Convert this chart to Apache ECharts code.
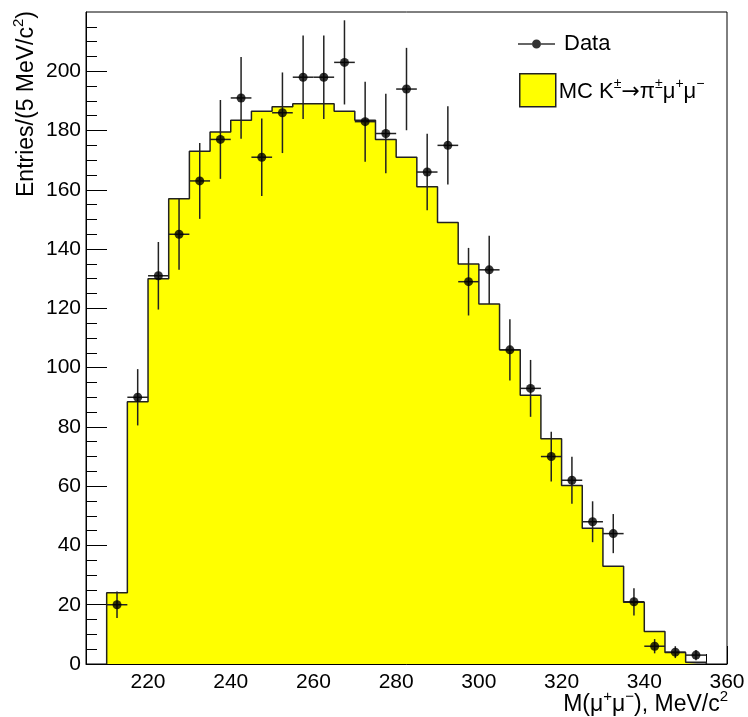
<!DOCTYPE html>
<html>
<head>
<meta charset="utf-8">
<style>
  html, body { margin: 0; padding: 0; background: #fff; }
  #chart { width: 748px; height: 717px; }
</style>
<script src="https://cdn.jsdelivr.net/npm/echarts@6/dist/echarts.min.js"></script>
</head>
<body>
<div id="chart"></div>
<script>
// Dimuon invariant mass: data vs. MC K± → π±μ+μ− (5 MeV/c² bins)
const binCenters = [212.5, 217.5, 222.5, 227.5, 232.5, 237.5, 242.5, 247.5, 252.5, 257.5,
                    262.5, 267.5, 272.5, 277.5, 282.5, 287.5, 292.5, 297.5, 302.5, 307.5,
                    312.5, 317.5, 322.5, 327.5, 332.5, 337.5, 342.5, 347.5, 352.5];
const mcCounts = [24, 88.5, 130, 157, 173, 179.5, 183.5, 186.5, 188, 189,
                  189, 186.5, 183.5, 177, 171, 161, 149, 135, 121.5, 106,
                  90.7, 76, 60.2, 45.8, 33, 20.8, 11, 3.9, 0.6];
const dataCounts = [20, 90, 131, 145, 163, 177, 191, 171, 186, 198,
                    198, 203, 183, 179, 194, 166, 175, 129, 133, 106,
                    93, 70, 62, 48, 44, 21, 6, 4, 3];
const dataErrors = [4.5, 9.5, 11.4, 12.0, 12.8, 13.3, 13.8, 13.1, 13.6, 14.1,
                    14.1, 14.2, 13.5, 13.4, 13.9, 12.9, 13.2, 11.4, 11.5, 10.3,
                    9.6, 8.4, 7.9, 6.9, 6.6, 4.6, 2.4, 2.0, 1.7];
const xTickLabels = [220, 240, 260, 280, 300, 320, 340, 360];
const yTickLabels = [0, 20, 40, 60, 80, 100, 120, 140, 160, 180, 200];

const X_MIN = 205, X_MAX = 360, Y_MIN = 0, Y_MAX = 220;
const FONT = "'Liberation Sans', Arial, Helvetica, sans-serif";
const INK = '#000';

const halfBin = (binCenters[1] - binCenters[0]) / 2;

// Closed step outline of the MC histogram
const mcSteps = [[binCenters[0] - halfBin, 0]];
binCenters.forEach((c, i) => mcSteps.push([c - halfBin, mcCounts[i]]));
const lastIdx = binCenters.length - 1;
mcSteps.push([binCenters[lastIdx] + halfBin, mcCounts[lastIdx]]);
mcSteps.push([binCenters[lastIdx] + halfBin, 0]);

const dataPoints = binCenters.map((c, i) => [c, dataCounts[i]]);
const errorBars = binCenters.map((c, i) => [c, dataCounts[i], dataErrors[i], halfBin]);

// Minor tick positions every 5 units, skipping the labelled ones
function minorTicks(lo, hi, step, majors) {
  const out = [];
  for (let v = lo; v <= hi + 1e-9; v += step) {
    if (!majors.includes(v)) out.push(v);
  }
  return out;
}
const xMinor = minorTicks(210, 355, 5, xTickLabels);
const yMinor = minorTicks(5, 215, 5, yTickLabels);

const labelStyle = { color: INK, fontSize: 21, fontFamily: FONT };

function richSet(size, supSize) {
  return {
    n: { fontSize: size, fontFamily: FONT, color: INK, lineHeight: size + 4, verticalAlign: 'bottom' },
    s: { fontSize: supSize, fontFamily: FONT, color: INK, lineHeight: size + 4, verticalAlign: 'top' },
    a: { fontSize: size, fontFamily: "'DejaVu Sans', sans-serif", color: INK, lineHeight: size + 4, verticalAlign: 'bottom' }
  };
}
const legendRich = richSet(22, 14);
const titleRich = richSet(23, 15);

const chart = echarts.init(document.getElementById('chart'), null, { renderer: 'canvas' });

chart.setOption({
  animation: false,
  backgroundColor: '#fff',
  grid: {
    left: 86, top: 12, right: 21, bottom: 53,
    show: true, borderColor: INK, borderWidth: 1, backgroundColor: 'transparent'
  },
  xAxis: [
    {
      type: 'value', min: X_MIN, max: X_MAX, position: 'bottom',
      axisLine: { lineStyle: { color: INK, width: 1 } },
      axisTick: { inside: true, length: 18, customValues: xTickLabels, lineStyle: { color: INK, width: 1 } },
      axisLabel: { customValues: xTickLabels, margin: 8, showMinLabel: true, showMaxLabel: true, ...labelStyle },
      splitLine: { show: false }
    },
    {
      type: 'value', min: X_MIN, max: X_MAX, position: 'bottom', offset: 0,
      axisLine: { show: false },
      axisTick: { inside: true, length: 10, customValues: xMinor, lineStyle: { color: INK, width: 1 } },
      axisLabel: { show: false },
      splitLine: { show: false }
    }
  ],
  yAxis: [
    {
      type: 'value', min: Y_MIN, max: Y_MAX, position: 'left',
      axisLine: { show: true, lineStyle: { color: INK, width: 1 } },
      axisTick: { show: true, inside: true, length: 21, customValues: yTickLabels, lineStyle: { color: INK, width: 1 } },
      axisLabel: { customValues: yTickLabels, margin: 5, showMinLabel: true, ...labelStyle },
      splitLine: { show: false }
    },
    {
      type: 'value', min: Y_MIN, max: Y_MAX, position: 'left', offset: 0,
      axisLine: { show: false },
      axisTick: { show: true, inside: true, length: 11, customValues: yMinor, lineStyle: { color: INK, width: 1 } },
      axisLabel: { show: false },
      splitLine: { show: false }
    }
  ],
  legend: [
    {
      data: ['Data'], selectedMode: false, orient: 'vertical',
      left: 513, top: 28,
      itemWidth: 37, itemHeight: 9,
      icon: 'path://M0,3.8h14v1.4h-14z M23,3.8h14v1.4h-14z M14,4.5a4.5,4.5 0 1,0 9,0a4.5,4.5 0 1,0 -9,0z',
      textStyle: { color: INK, fontSize: 22, fontFamily: FONT, padding: [0, 0, 0, 4] }
    },
    {
      data: ['MC'], selectedMode: false, orient: 'vertical',
      left: 514, top: 68,
      itemWidth: 36, itemHeight: 33, icon: 'rect',
      itemStyle: { color: '#ffff00', borderColor: '#222', borderWidth: 1.5 },
      formatter: () => '{n|MC K}{s|±}{a|→}{n|π}{s|±}{n|μ}{s|+}{n|μ}{s|−}',
      textStyle: { color: INK, fontSize: 22, fontFamily: FONT, padding: [0, 0, 0, -2], rich: legendRich }
    }
  ],
  graphic: [
    {
      type: 'text', x: 728, y: 703,
      style: {
        text: '{n|M(μ}{s|+}{n|μ}{s|−}{n|), MeV/c}{s|2}',
        rich: titleRich, align: 'right', verticalAlign: 'middle', fill: INK
      }
    },
    {
      type: 'text', x: 25, y: 11, rotation: Math.PI / 2,
      style: {
        text: '{n|Entries/(5 MeV/c}{s|2}{n|)}',
        rich: titleRich, align: 'right', verticalAlign: 'middle', fill: INK
      }
    }
  ],
  series: [
    {
      name: 'MC', type: 'line', step: 'end',
      xAxisIndex: 0, yAxisIndex: 0,
      data: mcSteps, symbol: 'none', z: 2,
      lineStyle: { color: '#222', width: 1.5 },
      areaStyle: { color: '#ffff00', opacity: 1 },
      itemStyle: { color: '#ffff00' }
    },
    {
      name: 'errors', type: 'custom',
      xAxisIndex: 0, yAxisIndex: 0, z: 3,
      data: errorBars,
      renderItem(params, api) {
        const x = api.value(0), y = api.value(1), e = api.value(2), h = api.value(3);
        const top = api.coord([x, y + e]);
        const bot = api.coord([x, Math.max(y - e, 0)]);
        const l = api.coord([x - h, y]);
        const r = api.coord([x + h, y]);
        const st = { stroke: '#222', lineWidth: 1.5 };
        return {
          type: 'group',
          children: [
            { type: 'line', shape: { x1: top[0], y1: top[1], x2: bot[0], y2: bot[1] }, style: st },
            { type: 'line', shape: { x1: l[0], y1: l[1], x2: r[0], y2: r[1] }, style: st }
          ]
        };
      }
    },
    {
      name: 'Data', type: 'scatter',
      xAxisIndex: 0, yAxisIndex: 0, z: 4,
      data: dataPoints, symbol: 'circle', symbolSize: 9,
      itemStyle: { color: '#000' }
    }
  ]
});
</script>
</body>
</html>
